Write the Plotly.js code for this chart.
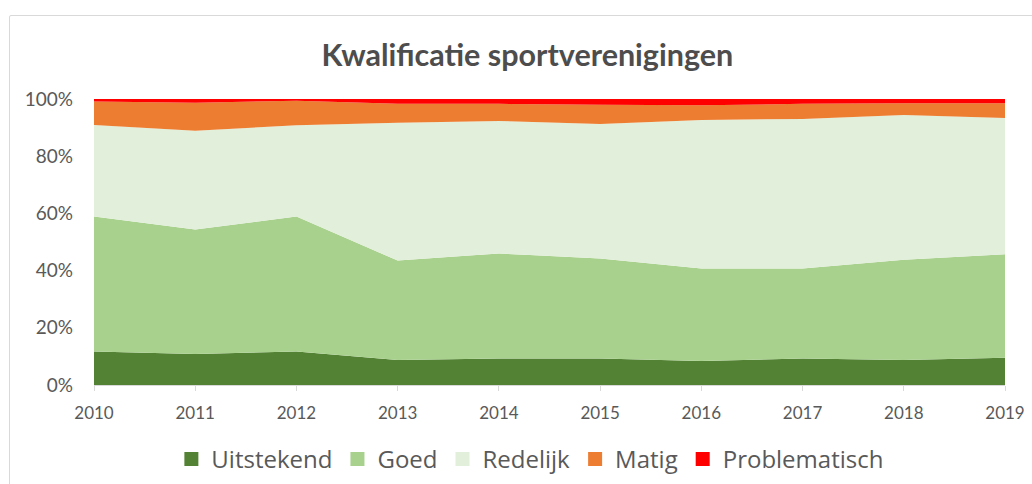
<!DOCTYPE html>
<html>
<head>
<meta charset="utf-8">
<script src="https://cdn.plot.ly/plotly-3.0.1.min.js"></script>
<style>
  html, body { margin: 0; padding: 0; background: #ffffff; }
  #frame { position: absolute; left: 9px; top: 15px; width: 1100px; height: 600px;
           border: 1.5px solid #d9d9d9; border-radius: 2px; }
  #chart { position: absolute; left: 0; top: 0; width: 1032px; height: 484px; }
</style>
</head>
<body>
<div id="frame"></div>
<div id="chart"></div>
<script>
// Years (x axis)
const years = [2010, 2011, 2012, 2013, 2014, 2015, 2016, 2017, 2018, 2019];

// Series values (percent shares)
const uitstekend    = [11.7, 10.8, 11.7, 8.7, 9.3, 9.3, 8.4, 9.3, 8.7, 9.5];
const goed          = [47.2, 43.6, 47.2, 34.8, 36.7, 34.9, 32.3, 31.4, 35.1, 36.2];
const redelijk      = [32.0, 34.5, 31.9, 48.2, 46.3, 47.1, 52.0, 52.3, 50.6, 47.7];
const matig         = [8.2, 9.8, 8.6, 6.6, 6.0, 6.7, 5.1, 5.3, 4.1, 5.1];
const problematisch = [0.9, 1.3, 0.6, 1.7, 1.7, 2.0, 2.2, 1.7, 1.5, 1.5];

const seriesNames = ["Uitstekend", "Goed", "Redelijk", "Matig", "Problematisch"];
const seriesValues = [uitstekend, goed, redelijk, matig, problematisch];
const seriesColors = ["#548235", "#a9d18e", "#e2efda", "#ed7d31", "#ff0000"];

// Y tick values/labels
const yTickVals = [0, 20, 40, 60, 80, 100];
const yTickText = ["0%", "20%", "40%", "60%", "80%", "100%"];

const tickFont = "Lato, 'Open Sans', sans-serif";
const legendFont = "'Open Sans', 'Noto Sans', sans-serif";
const grey = "#595959";

const traces = [];
seriesNames.forEach((name, i) => {
  traces.push({
    type: "scatter",
    x: years,
    y: seriesValues[i],
    name: name,
    stackgroup: "one",
    mode: "none",
    fillcolor: seriesColors[i],
    line: { width: 0 },
    showlegend: false,
    hoverinfo: "x+y+name"
  });
});
// legend entries (square swatches)
seriesNames.forEach((name, i) => {
  traces.push({
    type: "scatter",
    x: [null],
    y: [null],
    name: name,
    mode: "markers",
    marker: { symbol: "square", size: 14, color: seriesColors[i] },
    showlegend: true,
    hoverinfo: "skip"
  });
});

const layout = {
  width: 1032,
  height: 484,
  margin: { l: 94, r: 27, t: 99, b: 99, autoexpand: false },
  paper_bgcolor: "rgba(0,0,0,0)",
  plot_bgcolor: "rgba(0,0,0,0)",
  title: {
    text: "<b>Kwalificatie sportverenigingen</b>",
    font: { family: "Lato, sans-serif", size: 30.5, color: "#4d4d4d" },
    xref: "container",
    yref: "container",
    x: 0.511,
    xanchor: "center",
    y: 1 - 55 / 484,
    yanchor: "middle"
  },
  xaxis: {
    range: [2010, 2019],
    tickmode: "array",
    tickvals: years,
    ticktext: years.map(String),
    showgrid: false,
    zeroline: false,
    showline: true,
    linecolor: "#d9d9d9",
    linewidth: 1,
    ticks: "outside",
    ticklen: 5,
    tickcolor: "#d9d9d9",
    ticklabelstandoff: 8,
    tickfont: { family: tickFont, size: 17, color: grey },
    fixedrange: true
  },
  yaxis: {
    range: [0, 100],
    tickmode: "array",
    tickvals: yTickVals,
    ticktext: yTickText,
    showgrid: false,
    zeroline: false,
    showline: false,
    ticks: "",
    ticklabelstandoff: 20,
    tickfont: { family: tickFont, size: 19, color: grey },
    fixedrange: true
  },
  showlegend: true,
  legend: {
    orientation: "h",
    x: 0.479,
    xanchor: "center",
    y: -0.26,
    yanchor: "middle",
    font: { family: legendFont, size: 24, color: grey },
    itemwidth: 30,
    traceorder: "normal",
    bgcolor: "rgba(0,0,0,0)"
  }
};

Plotly.newPlot("chart", traces, layout, { displayModeBar: false, staticPlot: true });
</script>
</body>
</html>
